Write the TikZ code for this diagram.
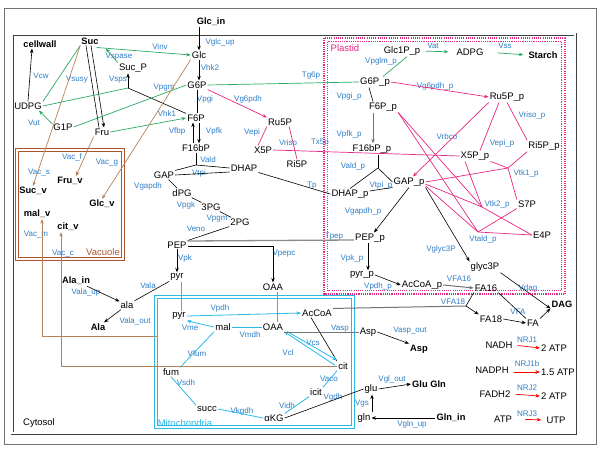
\documentclass[tikz,border=0pt]{standalone}
\usepackage{fontspec}
\setmainfont{Liberation Sans}
\usetikzlibrary{arrows.meta}
\definecolor{labblue}{RGB}{45,125,200}
\definecolor{grnc}{RGB}{40,170,100}
\definecolor{pnkc}{RGB}{230,40,130}
\definecolor{brnc}{RGB}{180,130,90}
\definecolor{vacc}{RGB}{170,85,45}
\definecolor{cync}{RGB}{40,185,230}
\begin{document}
\begin{tikzpicture}[x=1pt,y=-1pt,
  met/.style={font=\fontsize{9.5}{11}\selectfont, inner sep=1pt},
  metb/.style={font=\fontsize{9.3}{11}\selectfont\bfseries, inner sep=1pt},
  lab/.style={font=\fontsize{8}{9}\selectfont, text=labblue, inner sep=0.5pt},
  boxlab/.style={font=\fontsize{9.5}{11}\selectfont, inner sep=0.5pt},
  >={Stealth[length=4.5pt,width=3.5pt]},
  lblk/.style={draw=black, line width=0.6pt},
  lgrn/.style={draw=grnc, line width=0.7pt},
  lpnk/.style={draw=pnkc, line width=0.7pt},
  lbrn/.style={draw=brnc, line width=0.7pt},
  lcyn/.style={draw=cync, line width=0.8pt},
  lgry/.style={draw=black!45, line width=1.3pt},
  lgryd/.style={draw=black!55, line width=1pt},
  lred/.style={draw=red, line width=0.7pt},
  plbox/.style={draw=pnkc, line width=1.1pt, dash pattern=on 1.1pt off 1.1pt},
  dbox/.style={line width=0.8pt, double, double distance=1.4pt}
]
\useasboundingbox (0,0) rectangle (600,458);
% compartments
\draw[draw=black!55, line width=0.9pt] (4,8) rectangle (596,444);
\draw[dbox, draw=black!75] (12,34) rectangle (575,433);
\draw[plbox] (324,38) rectangle (565,294);
\draw[plbox] (327.5,41.5) rectangle (561.5,290.5);
\draw[dbox, line width=1.1pt, draw=vacc] (17,150) rectangle (123,259);
\draw[dbox, line width=1.1pt, draw=cync] (156,297) rectangle (353,427);
\node[boxlab, text=pnkc] (lPlastid) at (345,48) {Plastid};
\node[boxlab, text=vacc] (lVacuole) at (103,252) {Vacuole};
\node[boxlab, text=cync] (lMito) at (185,423) {Mitochondria};
\node[boxlab] (lCytosol) at (39,423) {Cytosol};

% cytosol metabolites
\node[metb] (Glcin) at (211,22) {Glc\_in};
\node[met] (Glc) at (199,55) {Glc};
\node[met] (G6P) at (197,85) {G6P};
\node[met] (F6P) at (196,118) {F6P};
\node[met] (F16bP) at (196,148) {F16bP};
\node[met] (GAP) at (164,175) {GAP};
\node[met] (DHAP) at (244,168) {DHAP};
\node[met] (dPG) at (182,193) {dPG};
\node[met] (tPG) at (211,207) {3PG};
\node[met] (twoPG) at (240,222) {2PG};
\node[met] (PEP) at (177,245) {PEP};
\node[met] (pyr) at (177,277) {pyr};
\node[met] (OAA) at (273,287) {OAA};
\node[met] (ala) at (127,305) {ala};
\node[metb] (Alain) at (76,281) {Ala\_in};
\node[metb] (Ala) at (98,327) {Ala};
\node[metb] (cellwall) at (40,44) {cellwall};
\node[metb] (Suc) at (90,41) {Suc};
\node[met] (SucP) at (133,68) {Suc\_P};
\node[met] (UDPG) at (28,106) {UDPG};
\node[met] (G1P) at (63,127) {G1P};
\node[met] (Fru) at (102,132) {Fru};
\node[met] (Ru5P) at (280,122) {Ru5P};
\node[met] (X5P) at (263,150) {X5P};
\node[met] (Ri5P) at (297,164) {Ri5P};
\node[met] (Asp) at (368,332) {Asp};
\node[metb] (AspB) at (419,349) {Asp};
\node[met] (glu) at (371,389) {glu};
\node[met] (gln) at (364,418) {gln};
\node[metb] (GluGln) at (429,384) {Glu Gln};
\node[metb] (Glnin) at (451,418) {Gln\_in};
% vacuole
\node[metb] (Sucv) at (33,191) {Suc\_v};
\node[metb] (Fruv) at (70,181) {Fru\_v};
\node[metb] (Glcv) at (102,204) {Glc\_v};
\node[metb] (malv) at (37,214) {mal\_v};
\node[metb] (citv) at (68,227) {cit\_v};
% plastid
\node[met] (Glc1Pp) at (402,51) {Glc1P\_p};
\node[met] (ADPG) at (470,52) {ADPG};
\node[metb] (Starch) at (543,55) {Starch};
\node[met] (G6Pp) at (375,82) {G6P\_p};
\node[met] (F6Pp) at (383,107) {F6P\_p};
\node[met] (F16bPp) at (372,149) {F16bP\_p};
\node[met] (DHAPp) at (350,194) {DHAP\_p};
\node[met] (GAPp) at (409,182) {GAP\_p};
\node[met] (PEPp) at (370,238) {PEP\_p};
\node[met] (pyrp) at (362,275) {pyr\_p};
\node[met] (AcCoAp) at (422,285) {AcCoA\_p};
\node[met] (Ru5Pp) at (507,97) {Ru5P\_p};
\node[met] (Ri5Pp) at (544,146) {Ri5P\_p};
\node[met] (X5Pp) at (475,156) {X5P\_p};
\node[met] (S7P) at (527,204) {S7P};
\node[met] (E4P) at (542,235) {E4P};
\node[met] (glyc3P) at (485,267) {glyc3P};
% lipids
\node[met] (FA16) at (486,288) {FA16};
\node[met] (FA18) at (491,319) {FA18};
\node[met] (FA) at (533,323) {FA};
\node[metb] (DAG) at (562,304) {DAG};
% energy
\node[met] (NADH) at (499,345) {NADH};
\node[met] (ATPa) at (554,348) {2 ATP};
\node[met] (NADPH) at (492,370) {NADPH};
\node[met] (ATPb) at (558,372) {1.5 ATP};
\node[met] (FADH) at (495,394) {FADH2};
\node[met] (ATPc) at (554,396) {2 ATP};
\node[met] (ATP) at (503,419) {ATP};
\node[met] (UTP) at (556,420) {UTP};
% mitochondria
\node[met] (pyrm) at (179,316) {pyr};
\node[met] (AcCoAm) at (317,313) {AcCoA};
\node[met] (malm) at (223,327) {mal};
\node[met] (OAAm) at (273,327) {OAA};
\node[met] (citm) at (343,366) {cit};
\node[met] (icit) at (316,392) {icit};
\node[met] (aKG) at (274,418) {αKG};
\node[met] (succ) at (207,409) {succ};
\node[met] (fum) at (171,372) {fum};

% reaction labels
\node[lab] at (220,42) {Vglc\_up};
\node[lab] at (210,68) {Vhk2};
\node[lab] at (205,99) {Vpgi};
\node[lab] at (177,131) {Vfbp};
\node[lab] at (214,131) {Vpfk};
\node[lab] at (208,160) {Vald};
\node[lab] at (199,173) {Vtpi};
\node[lab] at (148,186) {Vgapdh};
\node[lab] at (186,205) {Vpgk};
\node[lab] at (217,219) {Vpgm};
\node[lab] at (196,229) {Veno};
\node[lab] at (312,186) {Tp};
\node[lab] at (334,237) {Tpep};
\node[lab] at (284,254) {Vpepc};
\node[lab] at (185,258) {Vpk};
\node[lab] at (148,286) {Vala};
\node[lab] at (86,292) {Vala\_up};
\node[lab] at (135,321) {Vala\_out};
\node[lab] at (41,76) {Vcw};
\node[lab] at (77,80) {Vsusy};
\node[lab] at (119,57) {Vspase};
\node[lab] at (118,80) {Vsps};
\node[lab] at (34,123) {Vut};
\node[lab] at (160,47) {Vinv};
\node[lab] at (164,88) {Vpgm};
\node[lab] at (167,114) {Vhk1};
\node[lab] at (311,76) {Tg6p};
\node[lab] at (248,99) {Vg6pdh};
\node[lab] at (252,132) {Vepi};
\node[lab] at (288,143) {Vriso};
\node[lab] at (320,143) {Tx5p};
\node[lab] at (39,173) {Vac\_s};
\node[lab] at (72,157) {Vac\_f};
\node[lab] at (107,163) {Vac\_g};
\node[lab] at (36,235) {Vac\_m};
\node[lab] at (63,254) {Vac\_c};
\node[lab] at (433,46) {Vat};
\node[lab] at (505,46) {Vss};
\node[lab] at (381,61) {Vpglm\_p};
\node[lab] at (435,86) {Vg6pdh\_p};
\node[lab] at (349,96) {Vpgi\_p};
\node[lab] at (349,134) {Vpfk\_p};
\node[lab] at (447,137) {Vrbco};
\node[lab] at (532,115) {Vriso\_p};
\node[lab] at (502,143) {Vepi\_p};
\node[lab] at (353,166) {Vald\_p};
\node[lab] at (381,185) {Vtpi\_p};
\node[lab] at (363,211) {Vgapdh\_p};
\node[lab] at (352,258) {Vpk\_p};
\node[lab] at (378,286) {Vpdh\_p};
\node[lab] at (441,249) {Vglyc3P};
\node[lab] at (526,173) {Vtk1\_p};
\node[lab] at (497,204) {Vtk2\_p};
\node[lab] at (483,239) {Vtald\_p};
\node[lab] at (459,279) {VFA16};
\node[lab] at (453,302) {VFA18};
\node[lab] at (518,312) {VFA};
\node[lab] at (528,288) {Vdag};
\node[lab] at (527,340) {NRJ1};
\node[lab] at (527,364) {NRJ1b};
\node[lab] at (527,388) {NRJ2};
\node[lab] at (527,414) {NRJ3};
\node[lab] at (220,308) {Vpdh};
\node[lab] at (190,328) {Vme};
\node[lab] at (250,335) {Vmdh};
\node[lab] at (313,343) {Vcs};
\node[lab] at (288,353) {Vcl};
\node[lab] at (329,379) {Vaco};
\node[lab] at (287,406) {Vidh};
\node[lab] at (242,411) {Vkgdh};
\node[lab] at (186,383) {Vsdh};
\node[lab] at (197,354) {Vfum};
\node[lab] at (340,329) {Vasp};
\node[lab] at (410,331) {Vasp\_out};
\node[lab] at (392,379) {Vgl\_out};
\node[lab] at (362,404) {Vgs};
\node[lab] at (412,424) {Vgln\_up};
\node[lab] at (333,397) {Vgdh};

% glycolysis
\draw[lblk,->] (Glc |- Glcin.south) -- (Glc.north);
\draw[lblk,->] (Glc.south) -- (Glc.south |- G6P.north);
\draw[lblk] (G6P.south) -- (G6P.south |- F6P.north);
\draw[lblk,->] ([xshift=-3pt]F16bP.north) -- ([xshift=-3pt]F16bP.north |- F6P.south);
\draw[lblk,->] ([xshift=3pt]F16bP.north |- F6P.south) -- ([xshift=3pt]F16bP.north);
\coordinate (jald) at (196,165);
\draw[lblk] (F16bP.south) -- (jald);
\draw[lblk] (GAP.north east) -- (jald) -- (DHAP.west);
\draw[lblk] (GAP.east) -- ([yshift=-4pt]DHAP.west);
\draw[lblk] (GAP) -- (dPG);
\draw[lblk] (dPG) -- (tPG);
\draw[lblk] (tPG) -- (twoPG);
\draw[lblk] (twoPG.south west) -- (PEP.north east);
\draw[lgry] ([yshift=4pt]PEP.east) -- ([yshift=-2pt]PEPp.west);
\draw[lblk,->] ([yshift=-1pt]PEP.east) -| (OAA.north);
\draw[lblk,->] (PEP.south) -- (pyr.north);
\draw[lcyn] ([xshift=4pt]pyr.south) -- ([xshift=4pt]pyr.south |- pyrm.north);
\draw[lcyn] ([xshift=4pt]OAA.south) -- ([xshift=4pt]OAA.south |- OAAm.north);
\draw[lblk] (pyr) -- (ala);
\draw[lblk,->] (Alain) -- (ala);
\draw[lblk,->] (ala) -- (Ala);
\draw[lblk] (DHAP.south east) -- (DHAPp.west);
% sucrose
\draw[lblk] ([xshift=-4pt]Suc.south) -- ([xshift=-3pt]Fru.north);
\draw[lblk,->] ([xshift=1pt]Suc.south) -- ([xshift=2pt]Fru.north);
\draw[lgrn] (UDPG.north east) -- (Suc.south west);
\draw[lblk,->] (UDPG.north) -- ([xshift=-8pt]cellwall.south);
\draw[lgrn,->] (SucP.north west) -- ([xshift=6pt,yshift=-3pt]Suc.south east);
\draw[lgrn,->] ([xshift=-3pt,yshift=-2pt]Suc.south east) -- (Glc.west);
\coordinate (jsps) at (128,88);
\draw[lblk,->] (jsps) -- (jsps |- SucP.south);
\draw[lblk] (jsps) -- (F6P.north west);
\draw[lgrn] (UDPG.east) -- (jsps);
\draw[lgrn] (G1P.east) -- (G6P.west);
\draw[lgrn,->] ([yshift=3pt]G1P.west) -- ([xshift=-4pt]UDPG.south east);
\draw[lgrn,->] (Fru.east) -- (F6P.west);
\draw[lbrn,->] (Suc.south west) -- (Sucv.north);
\draw[lbrn,->] (Fru.south west) -- ([xshift=6pt]Fruv.north);
\draw[lbrn,->] (Glc.south west) -- (Glcv.north);
% pentose
\draw[lgrn] (G6P.east) -- (G6Pp.west);
\draw[lpnk,->] (G6P.south east) -- (Ru5P.north west);
\draw[lpnk] (Ru5P.south west) -- ([xshift=-5pt]X5P.north);
\draw[lpnk] ([xshift=-4pt]Ru5P.south east) -- (Ri5P.north);
\draw[lpnk] (X5P.east) -- (X5Pp.west);
% plastid
\draw[lgrn] ([xshift=5pt]Glc1Pp.south) -- ([xshift=-8pt]G6Pp.north east);
\draw[lgrn,->,shorten <=4pt,shorten >=7pt] (Glc1Pp.east) -- (ADPG.west);
\draw[lgrn,->,shorten <=13pt,shorten >=4pt] (ADPG.east) -- (Starch.west);
\draw[lpnk,->] (G6Pp.east) -- (Ru5Pp.west);
\draw[lblk] ([xshift=-6pt]G6Pp.south) -- ([xshift=-10pt]F6Pp.north);
\draw[lgryd,->] ([xshift=-10pt]F6Pp.south) -- ([xshift=-10pt]F6Pp.south |- F16bPp.north);
\coordinate (jaldp) at (378,168);
\draw[lblk] (F16bPp.south -| jaldp) -- (jaldp);
\draw[lblk] (DHAPp.north) -- (jaldp) -- (GAPp.west);
\draw[lblk] ([yshift=3pt]DHAPp.east) -- (GAPp.south west);
\draw[lblk,->] (GAPp.south) -- ([xshift=4pt]PEPp.north);
\draw[lblk,->] ([xshift=-2pt]PEPp.south) -- ([xshift=-2pt]PEPp.south |- pyrp.north);
\draw[lblk,->] (pyrp.east) -- (AcCoAp.west);
\draw[lblk,->] (GAPp.south east) -- (glyc3P.north west);
\draw[lgryd,->] (AcCoAp.east) -- (FA16.west);
\draw[lpnk,->] (Ru5Pp.south west) -- ([xshift=4pt]GAPp.north);
\draw[lpnk] ([xshift=-8pt]Ru5Pp.south) -- ([xshift=5pt]X5Pp.north);
\draw[lpnk] (Ru5Pp.south) -- (Ri5Pp.north west);
\coordinate (J1) at (508,168);
\coordinate (J2) at (482,207);
\coordinate (J3) at (478,232);
\draw[lpnk] (X5Pp.south east) -- (J1) -- (Ri5Pp.south west);
\draw[lpnk] (J1) -- (S7P.north west);
\draw[lpnk] (J1) -- (GAPp.east);
\draw[lpnk] ([xshift=-10pt]X5Pp.south) -- (J2) -- (E4P.west);
\draw[lpnk] (F6Pp.south east) -- (J2);
\draw[lpnk] ([yshift=-2pt]GAPp.east) -- (J2);
\draw[lpnk] (F6Pp.south east) -- (J3);
\draw[lpnk] ([yshift=-4pt]GAPp.east) -- (J3) -- (E4P.west);
\draw[lpnk] (J3) -- (S7P.south west);
% lipids
\coordinate (jfa18) at (466,306);
\draw[lgryd] (AcCoAm.north east) -- (jfa18);
\draw[lblk] (FA16.south west) -- (jfa18);
\draw[lblk,->] (jfa18) -- (FA18.north west);
\draw[lblk] (FA16.south east) -- (FA.north west);
\draw[lblk,->] (FA18.east) -- (FA.west);
\draw[lblk,->] (FA.north east) -- (DAG.south west);
\draw[lblk,->] (glyc3P.south east) -- (DAG.south west);
% energy
\draw[lred,->,shorten <=4pt] (NADH.east) -- (ATPa.west);
\draw[lred,->,shorten <=4pt] (NADPH.east |- ATPb.west) -- (ATPb.west);
\draw[lred,->,shorten <=4pt] (FADH.east) -- (ATPc.west);
\draw[lred,->,shorten <=12pt,shorten >=4pt] (ATP.east) -- (UTP.west);
% mitochondria
\draw[lcyn,->] (pyrm.east) -- (AcCoAm.west);
\draw[lcyn,->] (malm.west) -- (pyrm.south east);
\draw[lcyn] (malm.east) -- (OAAm.west);
\draw[lblk] ([xshift=-6pt]AcCoAm.south) -- (citm.north west);
\draw[lcyn,->] ([xshift=3pt]OAAm.south east) -- ([yshift=1pt]citm.north west);
\draw[lcyn,->] ([xshift=-2pt,yshift=-4pt]citm.north west) -- (OAAm.south east);
\draw[lcyn] (citm.south west) -- (icit.north east);
\draw[lcyn] (icit.south west) -- (aKG.north east);
\draw[lcyn] (aKG.west) -- (succ.east);
\draw[lcyn] (succ.north west) -- (fum.south);
\draw[lcyn] (fum.north east) -- (malm.south west);
\draw[lblk] (aKG.east) -- (glu.west);
\draw[lgryd] ([yshift=-5pt]OAAm.east) -- (Asp.west);
\draw[lblk,->] (Asp.east) -- (AspB.north west);
\draw[lblk,->] (glu.east) -- (GluGln.west);
\draw[lblk,->] ([xshift=8pt]gln.north) -- ([xshift=8pt]gln.north |- glu.south);
\draw[lblk,->] (Glnin.west) -- (gln.east);
\draw[lbrn,->] (citm.west) -| ([xshift=-7pt]citv.south);
\coordinate (malx) at (158,336);
\draw[lbrn,->] (malx) -| ([xshift=5pt]malv.south);
\end{tikzpicture}
\end{document}
